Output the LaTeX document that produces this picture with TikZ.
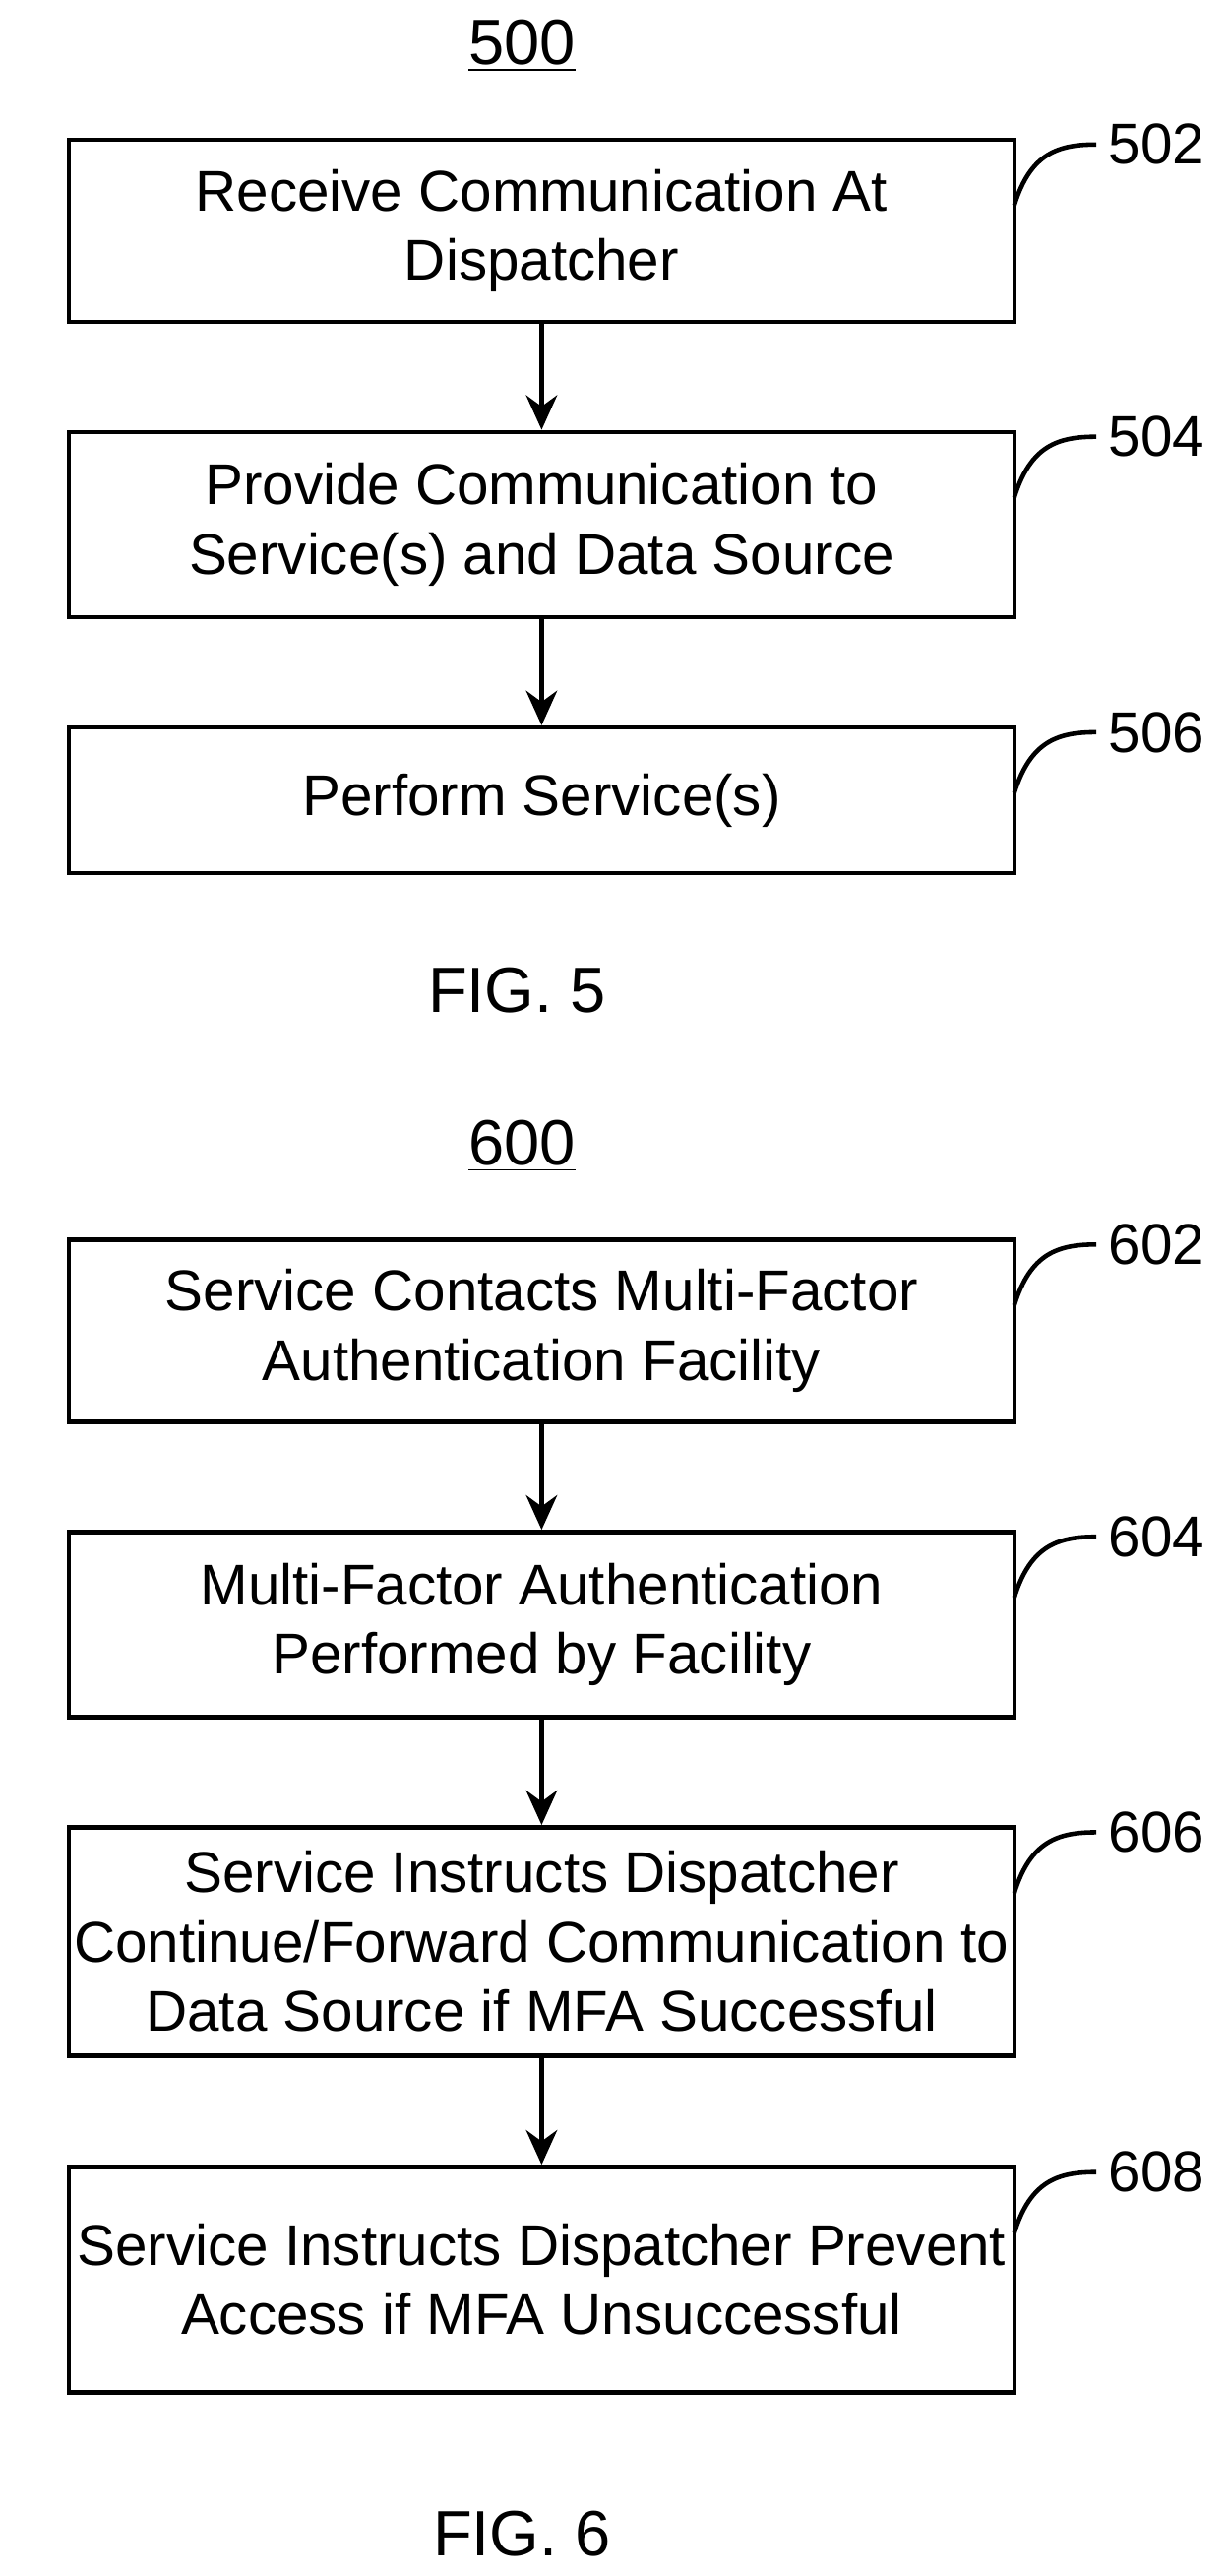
\documentclass[tikz,border=0pt]{standalone}
\usepackage{fontspec}
\setmainfont{Liberation Sans}
\usetikzlibrary{arrows.meta}

\tikzset{
  procbox/.style={draw, line width=1.3pt, minimum width=9.61cm, align=center,
    font=\fontsize{16.6pt}{20pt}\selectfont, inner sep=0pt},
  flow/.style={-{Stealth[length=10pt,width=9pt]}, line width=1.3pt},
  tag/.style={line width=1.3pt},
  num/.style={font=\fontsize{16.6pt}{19pt}\selectfont},
  title/.style={font=\fontsize{18.5pt}{22pt}\selectfont}
}

\begin{document}
\begin{tikzpicture}[x=0.01668cm, y=-0.01668cm]
\useasboundingbox (0,0) rectangle (750,1569);

% FIG. 5
\node[title] (t500) at (318,28) {\underline{500}};
\node[procbox, minimum height=1.85cm] (s502) at (330,140.5) {Receive Communication At\\Dispatcher};
\node[procbox, minimum height=1.88cm] (s504) at (330,319.5) {Provide Communication to\\Service(s) and Data Source};
\node[procbox, minimum height=1.48cm] (s506) at (330,487.5) {Perform Service(s)};
\node[title] (f5) at (315,603) {FIG. 5};

\draw[flow] (s502) -- (s504);
\draw[flow] (s504) -- (s506);

% FIG. 6
\node[title] (t600) at (318,698) {\underline{600}};
\node[procbox, minimum height=1.85cm] (s602) at (330,810.5) {Service Contacts Multi-Factor\\Authentication Facility};
\node[procbox, minimum height=1.88cm] (s604) at (330,989.5) {Multi-Factor Authentication\\Performed by Facility};
\node[procbox, minimum height=2.32cm] (s606) at (330,1182.5) {Service Instructs Dispatcher\\Continue/Forward Communication to\\Data Source if MFA Successful};
\node[procbox, minimum height=2.29cm] (s608) at (330,1388.5) {Service Instructs Dispatcher Prevent\\Access if MFA Unsuccessful};
\node[title] (f6) at (318,1543) {FIG. 6};

\draw[flow] (s602) -- (s604);
\draw[flow] (s604) -- (s606);
\draw[flow] (s606) -- (s608);

% reference numerals
\foreach \lab/\y in {502/85, 504/263, 506/443, 602/755, 604/933, 606/1113, 608/1320} {
  \node[num, anchor=west] (n\lab) at (668,\y+3) {\lab};
  \draw[tag] (618,\y+40) .. controls (628,\y+8) and (645,\y+3) .. (n\lab.west);
}
\end{tikzpicture}
\end{document}
